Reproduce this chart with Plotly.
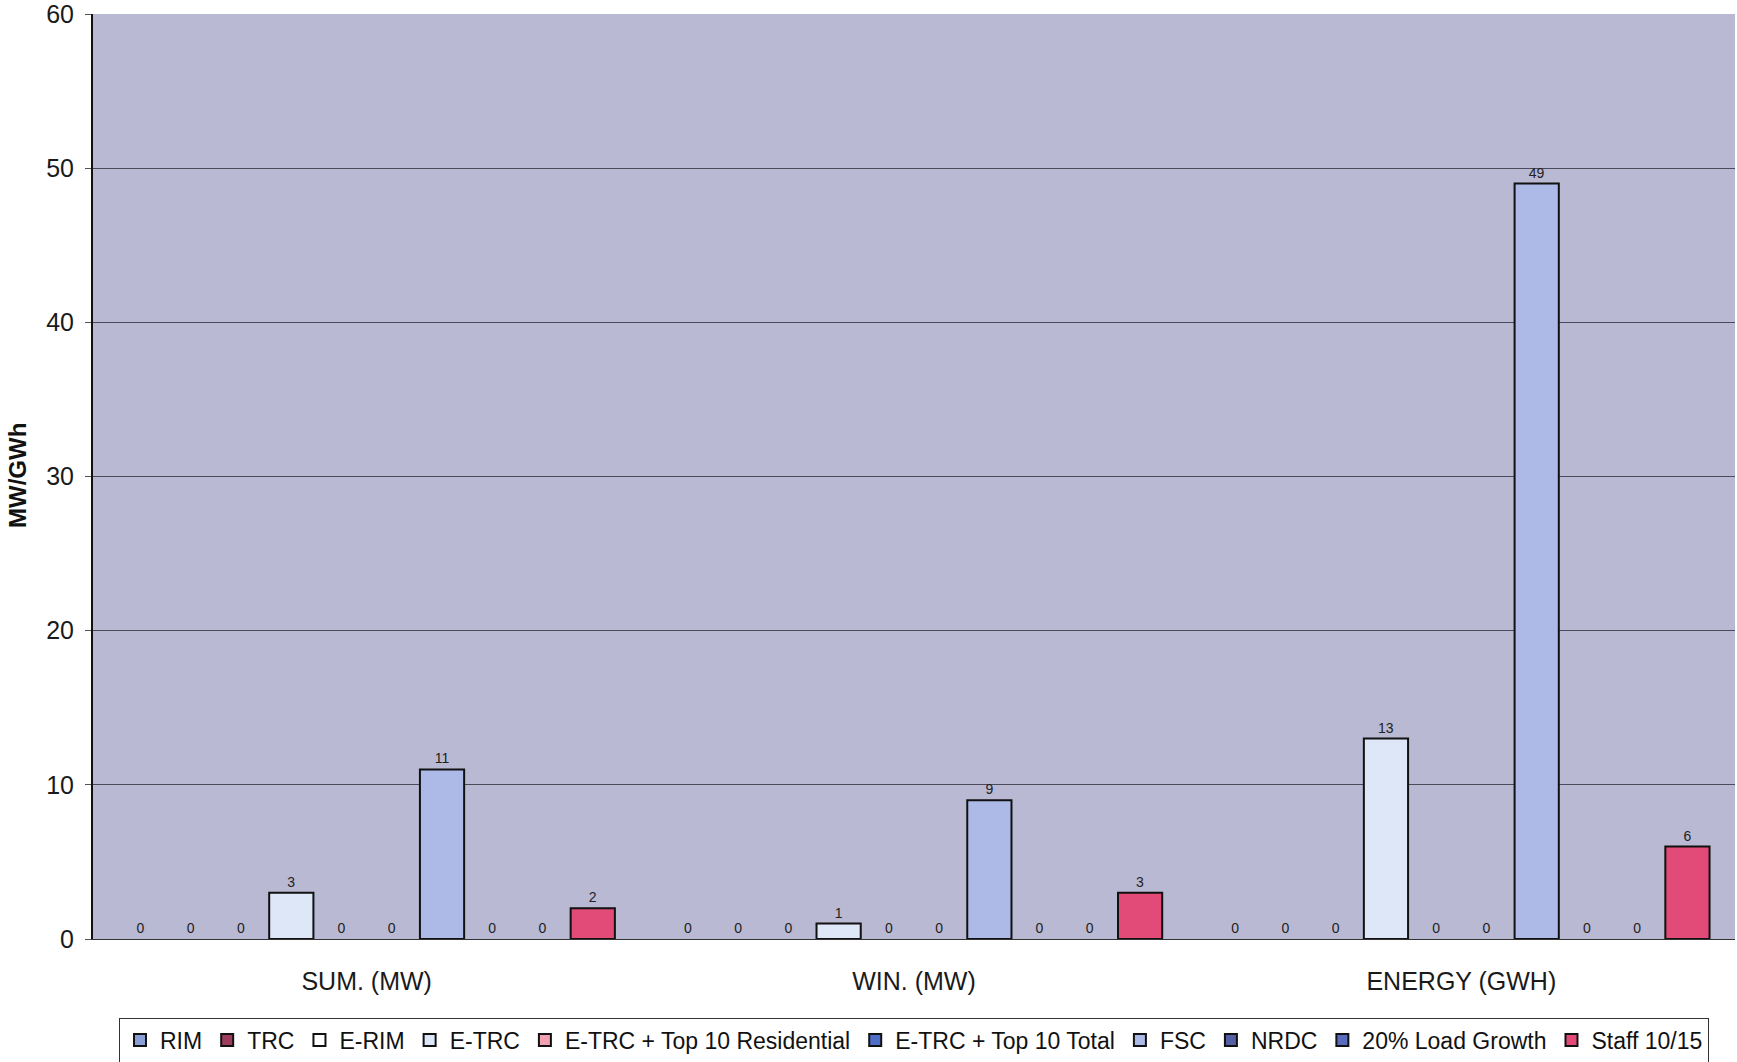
import plotly.graph_objects as go

# Categories and series
categories = ["SUM. (MW)", "WIN. (MW)", "ENERGY (GWH)"]
series_names = [
    "RIM", "TRC", "E-RIM", "E-TRC", "E-TRC + Top 10 Residential",
    "E-TRC + Top 10 Total", "FSC", "NRDC", "20% Load Growth", "Staff 10/15",
]
rim = [0, 0, 0]
trc = [0, 0, 0]
e_rim = [0, 0, 0]
e_trc = [3, 1, 13]
e_trc_top10_res = [0, 0, 0]
e_trc_top10_total = [0, 0, 0]
fsc = [11, 9, 49]
nrdc = [0, 0, 0]
load_growth_20 = [0, 0, 0]
staff_10_15 = [2, 3, 6]

series_values = [
    rim, trc, e_rim, e_trc, e_trc_top10_res,
    e_trc_top10_total, fsc, nrdc, load_growth_20, staff_10_15,
]
series_colors = [
    "#8a9ed8", "#9c3d5c", "#ffffff", "#dde7f7", "#f0a0b0",
    "#4f6ec8", "#adbae8", "#5560a4", "#5a6cbc", "#e24a78",
]

y_ticks = [0, 10, 20, 30, 40, 50, 60]

fig = go.Figure()
for name, vals, col in zip(series_names, series_values, series_colors):
    fig.add_trace(go.Bar(
        name=name,
        x=categories,
        y=vals,
        marker=dict(
            color=col,
            # zero-height bars get no outline so only their label shows
            line=dict(color="#111111", width=[2 if v else 0 for v in vals]),
        ),
        text=[str(v) for v in vals],
        textposition="outside",
        textfont=dict(family="Liberation Sans, Arial, sans-serif", size=14, color="#222222"),
        cliponaxis=False,
    ))

fig.update_layout(
    width=1737,
    height=1062,
    margin=dict(l=93, r=2, t=14, b=123, autoexpand=False),
    paper_bgcolor="#ffffff",
    plot_bgcolor="#b9b9d3",
    barmode="group",
    bargap=0.082,
    bargroupgap=0.12,
    font=dict(family="Liberation Sans, Arial, sans-serif", color="#1a1a1a"),
    showlegend=True,
    legend=dict(
        orientation="h",
        x=0.5, xanchor="center",
        y=-0.085, yanchor="top",
        font=dict(size=23, color="#111111"),
        bgcolor="#ffffff",
        bordercolor="#333333",
        borderwidth=1,
        itemsizing="constant",
        tracegroupgap=0,
        itemwidth=30,
    ),
    xaxis=dict(
        showgrid=False,
        ticks="",
        tickfont=dict(size=25, color="#1a1a1a"),
        ticklabelstandoff=20,
        showline=True,
        linecolor="#333333",
        linewidth=1,
    ),
    yaxis=dict(
        range=[0, 60],
        tickvals=y_ticks,
        ticks="outside",
        ticklen=6,
        tickcolor="#555555",
        tickfont=dict(size=25, color="#1a1a1a"),
        ticklabelstandoff=6,
        ticklabeloverflow="allow",
        showgrid=True,
        gridcolor="#4a4a5a",
        gridwidth=1,
        showline=True,
        linecolor="#111111",
        linewidth=2,
        zeroline=False,
    ),
    annotations=[dict(
        text="<b>MW/GWh</b>",
        xref="paper", yref="paper",
        x=(17 - 93) / 1642, y=(939 - 476) / 925,
        xanchor="center", yanchor="middle",
        textangle=-90,
        showarrow=False,
        font=dict(size=24, color="#111111"),
    )],
)

fig.write_html("out.html")
